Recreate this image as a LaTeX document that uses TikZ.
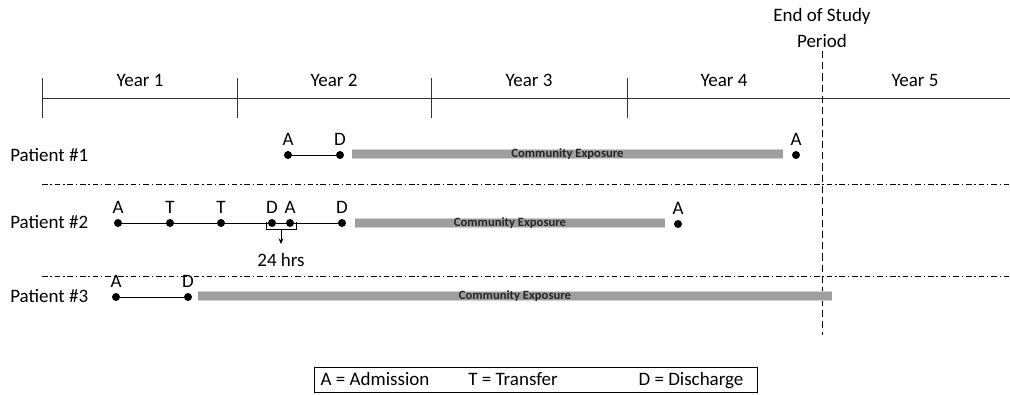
\documentclass[tikz,border=0pt]{standalone}
\usepackage{fontspec}
\setmainfont{Carlito}
\usetikzlibrary{positioning,arrows.meta}
\definecolor{expogray}{RGB}{158,158,158}

\begin{document}
\begin{tikzpicture}[
        x=0.025cm, y=-0.025cm,
        font=\fontsize{13.5}{16}\selectfont,
        evt/.style={circle, fill=black, inner sep=0pt, minimum size=0.2cm,
            label={[label distance=0pt]above:#1}},
        axis/.style={line width=0.6pt, black!80},
        sep/.style={line width=0.5pt, dash pattern=on 4pt off 2pt on 1pt off 2pt},
        expo/.style={line width=0.19cm, expogray, line cap=butt,
            preaction={draw, line width=0.27cm, black!18}},
        expotext/.style={text=black!85, font=\fontsize{9}{10}\selectfont\bfseries, inner sep=0pt},
        trail/.style={line width=0.6pt},
        txt/.style={anchor=base, inner sep=0pt}
    ]
        \useasboundingbox (0,0) rectangle (1010,394);
        % time axis
        \draw[axis] (42,98) -- (1010,98);
        \foreach \xt in {42,237,431,627}
            \draw[axis] (\xt,78) -- (\xt,118);
        \foreach \yr/\xc in {1/140,2/334,3/529,4/724,5/915}
            \node[txt] (year\yr) at (\xc,86) {Year \yr};
        % end of study
        \node[align=center, font=\fontsize{13.5}{19}\selectfont] (endstudy) at (822,28) {End of Study\\Period};
        \coordinate (endtop) at (822,51);
        \coordinate (endbot) at (822,335);
        \draw[line width=0.6pt, dash pattern=on 5pt off 3pt] (endtop) -- (endbot);
        % separators
        \draw[sep] (42,184) -- (1010,184);
        \draw[sep] (42,276) -- (1010,276);

        % patient 1
        \node[txt, anchor=base west] (pat1) at (10,161) {Patient \#1};
        \node[evt=A] (p1a) at (288,155) {};
        \node[evt=D] (p1d) at (340,155) {};
        \node[evt=A] (p1r) at (796,155) {};
        \draw[trail] (p1a) -- (p1d);
        \draw[expo] (352,154) -- node[expotext] {Community Exposure} (783,154);

        % patient 2
        \node[txt, anchor=base west] (pat2) at (10,228) {Patient \#2};
        \node[evt=A] (p2a) at (118,223) {};
        \node[evt=T] (p2t1) at (170,223) {};
        \node[evt=T] (p2t2) at (221,223) {};
        \node[evt=D] (p2d1) at (272,223) {};
        \node[evt=A] (p2a2) at (290,223) {};
        \node[evt=D] (p2d2) at (342,223) {};
        \node[evt=A] (p2r) at (678,224) {};
        \draw[trail] (p2a) -- (p2t1) -- (p2t2) -- (p2d1) -- (p2a2) -- (p2d2);
        \draw[line width=0.6pt] (266,222) -- (266,229) -- (296,229) -- (296,222);
        \node[txt] (hrs) at (281,266) {24 hrs};
        \coordinate (brk) at (281,229);
        \coordinate (brkend) at (281,244);
        \draw[line width=0.6pt, -{Stealth[length=4pt,width=3.5pt]}] (brk) -- (brkend);
        \draw[expo] (355,223) -- node[expotext] {Community Exposure} (665,223);

        % patient 3
        \node[txt, anchor=base west] (pat3) at (10,302) {Patient \#3};
        \node[evt=A, label distance=-3pt] (p3a) at (116,297) {};
        \node[evt=D, label distance=-3pt] (p3d) at (188,297) {};
        \draw[trail] (p3a) -- (p3d);
        \draw[expo] (198,296) -- node[expotext] {Community Exposure} (832,296);

        % legend
        \node[draw, line width=0.6pt, minimum width=443*0.025cm, minimum height=25*0.025cm] (legend) at (535.5,379.5) {};
        \node[txt] (lega) at (375,385) {A = Admission};
        \node[txt] (legt) at (513,385) {T = Transfer};
        \node[txt] (legd) at (691,385) {D = Discharge};
    \end{tikzpicture}
\end{document}
